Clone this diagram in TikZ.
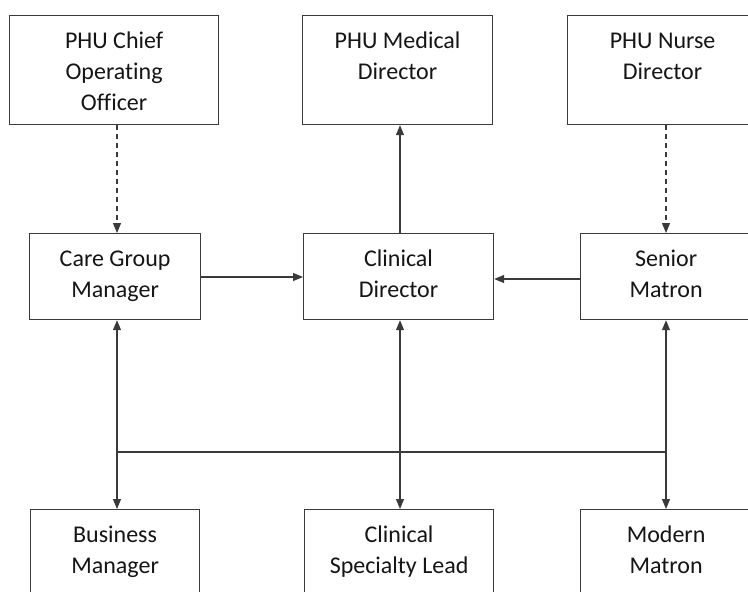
\documentclass[tikz,border=0pt]{standalone}
\usepackage{fontspec}
\setmainfont[Ligatures=NoCommon]{Carlito}
\usetikzlibrary{arrows.meta}
\definecolor{linec}{HTML}{3A3A3A}
\definecolor{txtc}{HTML}{151515}
\begin{document}
\begin{tikzpicture}[x=1pt,y=-1pt,
  boxn/.style={draw=linec, line width=1.2pt, rectangle, inner sep=0pt, anchor=north west},
  lbl/.style={anchor=north, inner sep=0pt, align=center, text=txtc, font=\fontsize{24}{31}\selectfont, yshift=-13pt},
  conn/.style={draw=linec, line width=1.1pt},
  dashline/.style={dash pattern=on 5pt off 4pt},
  tipend/.style={arrows={-Triangle[length=10pt,width=8pt]}},
  tipboth/.style={arrows={Triangle[length=10pt,width=8pt]-Triangle[length=10pt,width=8pt]}}
]
\useasboundingbox (0,0) rectangle (748,592);
\fill[white] (0,0) rectangle (748,592);
\clip (0,0) rectangle (748,592);

% boxes
\node[boxn, minimum width=209pt, minimum height=109pt] (coo) at (9,15) {};
\node[boxn, minimum width=190pt, minimum height=109pt] (med) at (302,15) {};
\node[boxn, minimum width=190pt, minimum height=109pt] (nur) at (567,15) {};
\node[boxn, minimum width=171pt, minimum height=86pt] (cgm) at (29,233) {};
\node[boxn, minimum width=190pt, minimum height=86pt] (cd) at (303,233) {};
\node[boxn, minimum width=171pt, minimum height=86pt] (sm) at (580,233) {};
\node[boxn, minimum width=169pt, minimum height=86pt] (bm) at (30,509) {};
\node[boxn, minimum width=189pt, minimum height=86pt] (csl) at (304,509) {};
\node[boxn, minimum width=171pt, minimum height=86pt] (mm) at (580,509) {};

% labels
\node[lbl] (tcoo) at (coo.north) {\rule{0pt}{20pt}PHU Chief\\Operating\\Officer};
\node[lbl] (tmed) at (med.north) {\rule{0pt}{20pt}PHU Medical\\Director};
\node[lbl] (tnur) at (nur.north) {\rule{0pt}{20pt}PHU Nurse\\Director};
\node[lbl] (tcgm) at (cgm.north) {\rule{0pt}{20pt}Care Group\\Manager};
\node[lbl] (tcd) at (cd.north) {\rule{0pt}{20pt}Clinical\\Director};
\node[lbl] (tsm) at (sm.north) {\rule{0pt}{20pt}Senior\\Matron};
\node[lbl] (tbm) at (bm.north) {\rule{0pt}{20pt}Business\\Manager};
\node[lbl] (tcsl) at (csl.north) {\rule{0pt}{20pt}Clinical\\Specialty Lead};
\node[lbl] (tmm) at (mm.north) {\rule{0pt}{20pt}Modern\\Matron};

% guide coordinates
\coordinate (xl) at (117,0);
\coordinate (xm) at (400,0);
\coordinate (xr) at (666,0);
\coordinate (ya) at (0,277);
\coordinate (yb) at (0,279);
\coordinate (hl) at (117,452);
\coordinate (hr) at (666,452);

% connectors
\draw[conn, dashline, tipend] (coo.south -| xl) -- (cgm.north -| xl);
\draw[conn, tipend] (cd.north -| xm) -- (med.south -| xm);
\draw[conn, dashline, tipend] (nur.south -| xr) -- (sm.north -| xr);
\draw[conn, tipend] (cgm.east |- ya) -- (cd.west |- ya);
\draw[conn, tipend] (sm.west |- yb) -- (cd.east |- yb);
\draw[conn, tipboth] (cgm.south -| xl) -- (bm.north -| xl);
\draw[conn, tipboth] (cd.south -| xm) -- (csl.north -| xm);
\draw[conn, tipboth] (sm.south -| xr) -- (mm.north -| xr);
\draw[conn] (hl) -- (hr);
\end{tikzpicture}
\end{document}
